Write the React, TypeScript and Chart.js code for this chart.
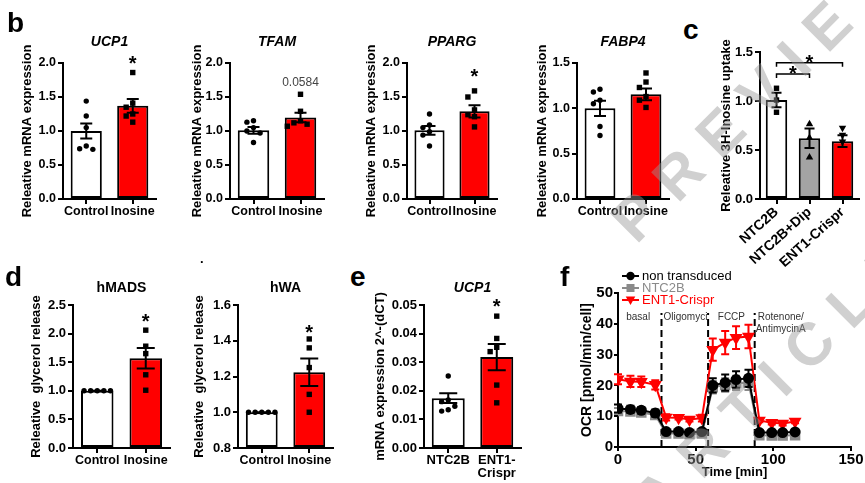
import React, { useEffect, useRef } from 'react';
import { Chart, registerables } from 'chart.js';

Chart.register(...registerables);

const FONT = '"Liberation Sans", Arial, Helvetica, sans-serif';
const RED = '#ff0000';
const BAR_GRAY = '#a3a3a3';
const LINE_GRAY = '#8a8a8a';

/* ================= DATA ================= */
// panel b
const bLabels = ['Control', 'Inosine'];

const ucp1Mean = [1.0, 1.37];
const ucp1Sem = [0.11, 0.1];
const ucp1Control = [1.44, 1.22, 1.05, 0.78, 0.73, 0.74];
const ucp1Inosine = [1.86, 1.41, 1.35, 1.25, 1.22, 1.13];

const tfamMean = [1.01, 1.2];
const tfamSem = [0.05, 0.07];
const tfamControl = [1.15, 1.13, 1.05, 1.0, 0.97, 0.83];
const tfamInosine = [1.54, 1.29, 1.15, 1.12, 1.1, 1.07];
const tfamPValue = '0.0584';

const ppargMean = [1.01, 1.29];
const ppargSem = [0.065, 0.09];
const ppargControl = [1.25, 1.09, 1.05, 0.99, 0.94, 0.78];
const ppargInosine = [1.59, 1.5, 1.31, 1.24, 1.21, 1.06];

const fabp4Mean = [1.0, 1.155];
const fabp4Sem = [0.085, 0.065];
const fabp4Control = [1.21, 1.18, 1.09, 1.05, 0.8, 0.7];
const fabp4Inosine = [1.39, 1.29, 1.23, 1.13, 1.09, 1.01];

// panel c
const cLabels = ['NTC2B', 'NTC2B+Dip', 'ENT1-Crispr'];
const uptakeMean = [1.01, 0.62, 0.59];
const uptakeSem = [0.075, 0.1, 0.06];
const uptakeNTC2B = [1.13, 1.01, 0.885];
const uptakeDip = [0.77, 0.63, 0.43];
const uptakeENT1 = [0.72, 0.65, 0.58];

// panel d
const dLabels = ['Control', 'Inosine'];
const hmadsMean = [1.0, 1.57];
const hmadsSem = [0, 0.18];
const hmadsControl = [1, 1, 1, 1, 1];
const hmadsInosine = [2.06, 1.78, 1.65, 1.28, 1.01];

const hwaMean = [1.0, 1.224];
const hwaSem = [0, 0.077];
const hwaControl = [1, 1, 1, 1, 1];
const hwaInosine = [1.41, 1.36, 1.25, 1.1, 1.0];

// panel e
const eLabels = ['NTC2B', ['ENT1-', 'Crispr']];
const eUcp1Mean = [0.0174, 0.0318];
const eUcp1Sem = [0.0017, 0.0046];
const eUcp1NTC2B = [0.0252, 0.0168, 0.0162, 0.0146, 0.0134, 0.0129];
const eUcp1ENT1 = [0.0461, 0.0383, 0.0352, 0.0337, 0.022, 0.0158];

// panel f
const ocrTime = [0, 8, 15, 24, 31, 39, 46, 54, 61, 69, 76, 84, 91, 99, 106, 114];
const ocrNonTransduced = [12.5, 12.2, 11.9, 11.0, 5.0, 5.0, 4.7, 5.0, 20.0, 20.9, 21.9, 22.3, 4.7, 4.7, 4.7, 4.9];
const ocrNonTransducedErr = [1.3, 1.2, 1.1, 1.2, 0.8, 0.6, 0.6, 0.8, 2.3, 2.6, 2.7, 2.8, 0.8, 0.6, 0.6, 0.6];
const ocrNTC2B = [11.7, 11.5, 11.2, 10.4, 4.4, 4.4, 4.2, 4.4, 19.4, 20.1, 20.8, 20.9, 3.8, 3.7, 3.7, 3.8];
const ocrNTC2BErr = [1.0, 1.0, 1.0, 1.0, 0.6, 0.6, 0.6, 0.6, 2.0, 2.2, 2.3, 2.4, 0.6, 0.6, 0.6, 0.6];
const ocrENT1 = [22.0, 21.3, 21.2, 20.2, 9.6, 9.5, 8.9, 9.4, 31.6, 33.9, 35.5, 35.9, 8.6, 7.9, 7.6, 8.3];
const ocrENT1Err = [1.6, 1.8, 1.7, 1.5, 1.0, 0.6, 0.6, 1.1, 3.6, 3.8, 3.7, 3.8, 0.6, 0.6, 0.6, 0.6];
const injectionTimes = [28, 58, 88];
const phaseNames = ['basal', 'Oligomycin', 'FCCP', 'Rotenone/', 'AntimycinA'];

/* ================= HELPERS ================= */
function drawMarker(ctx: any, kind: string, x: number, y: number, r: number, color: string) {
  ctx.fillStyle = color;
  ctx.beginPath();
  if (kind === 'circle') {
    ctx.arc(x, y, r, 0, Math.PI * 2);
  } else if (kind === 'rect') {
    ctx.rect(x - r, y - r, 2 * r, 2 * r);
  } else if (kind === 'triangle') {
    ctx.moveTo(x, y - r * 1.25);
    ctx.lineTo(x + r * 1.2, y + r * 0.85);
    ctx.lineTo(x - r * 1.2, y + r * 0.85);
    ctx.closePath();
  } else if (kind === 'triangleDown') {
    ctx.moveTo(x, y + r * 1.25);
    ctx.lineTo(x + r * 1.2, y - r * 0.85);
    ctx.lineTo(x - r * 1.2, y - r * 0.85);
    ctx.closePath();
  }
  ctx.fill();
}

function swarmOffsets(pys: number[], d: number): number[] {
  const order = pys.map((_, i) => i).sort((a, b) => pys[a] - pys[b]);
  const res = new Array(pys.length).fill(0);
  const placed: { x: number; y: number }[] = [];
  for (const i of order) {
    const y = pys[i];
    for (let k = 0; k < 30; k++) {
      const step = Math.ceil(k / 2);
      const off = k === 0 ? 0 : (k % 2 === 1 ? -step * d : step * d);
      if (placed.every((p) => Math.hypot(p.x - off, p.y - y) >= d - 0.01)) {
        res[i] = off;
        placed.push({ x: off, y });
        break;
      }
    }
  }
  return res;
}

type Note = { cat: number; value: number; text: string; kind: 'star' | 'p' };
type Bracket = { from: number; to: number; value: number; starValue: number };

type BarProps = {
  plot: number[];
  margin: number[];
  labels: any[];
  means: number[];
  sems: number[];
  groups: number[][];
  fills: string[];
  markers: string[];
  yMin: number;
  yMax: number;
  yStep: number;
  decimals: number;
  yTitle: string;
  title?: string;
  titleItalic?: boolean;
  titleGap?: number;
  notes?: Note[];
  brackets?: Bracket[];
  barPct: number;
  capW: number;
  tickSize: number;
  xTickSize: number;
  rotate?: number;
};

function BarPanel(p: BarProps) {
  const ref = useRef<HTMLCanvasElement>(null);
  const [L, T, R, B] = p.plot;
  const [ml, mt, mr, mb] = p.margin;
  const cw = ml + (R - L) + mr;
  const ch = mt + (B - T) + mb;

  useEffect(() => {
    const annot = {
      id: 'annot',
      afterDatasetsDraw(chart: any) {
        const { ctx, chartArea } = chart;
        const xs = chart.scales.x;
        const ys = chart.scales.y;
        ctx.save();
        // error bars (SEM)
        ctx.strokeStyle = '#000';
        ctx.lineWidth = 2;
        p.means.forEach((m, i) => {
          const x = xs.getPixelForValue(i);
          const yt = ys.getPixelForValue(m + p.sems[i]);
          const yb = ys.getPixelForValue(m - p.sems[i]);
          const h = p.capW / 2;
          ctx.beginPath();
          ctx.moveTo(x, yt);
          ctx.lineTo(x, yb);
          ctx.moveTo(x - h, yt);
          ctx.lineTo(x + h, yt);
          ctx.moveTo(x - h, yb);
          ctx.lineTo(x + h, yb);
          ctx.stroke();
        });
        // individual points
        const r = 2.7;
        p.groups.forEach((vals, i) => {
          const cx = xs.getPixelForValue(i);
          const pys = vals.map((v) => ys.getPixelForValue(v));
          const offs = swarmOffsets(pys, r * 2 + 1.2);
          pys.forEach((py, k) => drawMarker(ctx, p.markers[i], cx + offs[k], py, p.markers[i].startsWith('tri') ? 3.1 : r, '#000'));
        });
        // brackets
        (p.brackets || []).forEach((b) => {
          const x1 = xs.getPixelForValue(b.from);
          const x2 = xs.getPixelForValue(b.to);
          const y = ys.getPixelForValue(b.value);
          ctx.lineWidth = 1.5;
          ctx.beginPath();
          ctx.moveTo(x1, y + 4);
          ctx.lineTo(x1, y);
          ctx.lineTo(x2, y);
          ctx.lineTo(x2, y + 4);
          ctx.stroke();
          ctx.font = `bold 20px ${FONT}`;
          ctx.fillStyle = '#000';
          ctx.textAlign = 'center';
          ctx.textBaseline = 'alphabetic';
          ctx.fillText('*', (x1 + x2) / 2, ys.getPixelForValue(b.starValue) + 11.2);
        });
        // notes
        (p.notes || []).forEach((n) => {
          const x = xs.getPixelForValue(n.cat);
          const y = ys.getPixelForValue(n.value);
          ctx.textAlign = 'center';
          if (n.kind === 'star') {
            ctx.font = `bold 20px ${FONT}`;
            ctx.fillStyle = '#000';
            ctx.textBaseline = 'alphabetic';
            ctx.fillText(n.text, x, y + 11.2);
          } else {
            ctx.font = `12px ${FONT}`;
            ctx.fillStyle = '#444';
            ctx.textBaseline = 'middle';
            ctx.fillText(n.text, x, y);
          }
        });
        // title
        if (p.title) {
          ctx.font = `${p.titleItalic ? 'italic ' : ''}bold 14px ${FONT}`;
          ctx.fillStyle = '#000';
          ctx.textAlign = 'center';
          ctx.textBaseline = 'middle';
          ctx.fillText(p.title, (chartArea.left + chartArea.right) / 2, chartArea.top - (p.titleGap || 20));
        }
        ctx.restore();
      },
    };

    const tickGrid = { display: true, drawOnChartArea: false, drawTicks: true, tickLength: 5, color: '#000', lineWidth: 2 };
    const chart = new Chart(ref.current as HTMLCanvasElement, {
      type: 'bar',
      data: {
        labels: p.labels,
        datasets: [
          {
            data: p.means,
            backgroundColor: p.fills,
            borderColor: '#000',
            borderWidth: 2,
            borderSkipped: false,
            barPercentage: p.barPct,
            categoryPercentage: 1,
            base: p.yMin,
          } as any,
        ],
      },
      options: {
        responsive: false,
        animation: false,
        devicePixelRatio: 1,
        layout: { padding: { left: 0, top: mt, right: mr, bottom: 0 } },
        plugins: { legend: { display: false }, tooltip: { enabled: false }, title: { display: false } },
        scales: {
          x: {
            type: 'category',
            offset: true,
            grid: { ...tickGrid, offset: false },
            border: { display: true, color: '#000', width: 2 },
            ticks: {
              color: '#000',
              font: { family: FONT, size: p.xTickSize, weight: 'bold', lineHeight: 1.0 },
              padding: 1,
              autoSkip: false,
              maxRotation: p.rotate || 0,
              minRotation: p.rotate || 0,
            },
            afterFit: (s: any) => {
              s.height = mb;
            },
          },
          y: {
            min: p.yMin,
            max: p.yMax,
            ticks: {
              stepSize: p.yStep,
              color: '#000',
              font: { family: FONT, size: p.tickSize, weight: 'bold' },
              padding: 2,
              callback: (v: any) => Number(v).toFixed(p.decimals),
            },
            grid: tickGrid,
            border: { display: true, color: '#000', width: 2 },
            title: {
              display: true,
              text: p.yTitle,
              color: '#000',
              font: { family: FONT, size: 13, weight: 'bold' },
              padding: 0,
            },
            afterFit: (s: any) => {
              s.width = ml;
            },
          },
        },
      } as any,
      plugins: [annot],
    });
    return () => chart.destroy();
  }, []);

  return (
    <canvas
      ref={ref}
      width={cw}
      height={ch}
      style={{ position: 'absolute', left: L - ml, top: T - mt, width: cw, height: ch }}
    />
  );
}

function OcrPanel() {
  const ref = useRef<HTMLCanvasElement>(null);
  const [L, T, R, B] = [618, 293, 851, 447];
  const [ml, mt, mr, mb] = [39, 30, 14, 35];
  const cw = ml + (R - L) + mr;
  const ch = mt + (B - T) + mb;

  useEffect(() => {
    const errs = [ocrNonTransducedErr, ocrNTC2BErr, ocrENT1Err];
    const markerKinds = ['circle', 'rect', 'triangleDown'];
    const pts = (arr: number[]) => arr.map((y, i) => ({ x: ocrTime[i], y }));

    const ocrPlugin = {
      id: 'ocr',
      beforeDatasetsDraw(chart: any) {
        const { ctx } = chart;
        const xs = chart.scales.x;
        const ys = chart.scales.y;
        ctx.save();
        ctx.strokeStyle = '#000';
        ctx.lineWidth = 2;
        ctx.setLineDash([7, 4]);
        injectionTimes.forEach((t) => {
          const x = xs.getPixelForValue(t);
          ctx.beginPath();
          ctx.moveTo(x, ys.getPixelForValue(0));
          ctx.lineTo(x, ys.getPixelForValue(43.5));
          ctx.stroke();
        });
        ctx.setLineDash([]);
        ctx.font = `10px ${FONT}`;
        ctx.fillStyle = '#333';
        ctx.textBaseline = 'middle';
        const yRow1 = ys.getPixelForValue(42.2);
        const yRow2 = ys.getPixelForValue(38.3);
        ctx.textAlign = 'center';
        ctx.fillText(phaseNames[0], xs.getPixelForValue(injectionTimes[0] / 2 - 1), yRow1);
        // Oligomycin, clipped to its interval
        ctx.save();
        ctx.beginPath();
        const xa = xs.getPixelForValue(injectionTimes[0]) + 1;
        const xb = xs.getPixelForValue(injectionTimes[1]) - 1;
        ctx.rect(xa, yRow1 - 10, xb - xa, 20);
        ctx.clip();
        ctx.textAlign = 'left';
        ctx.fillText(phaseNames[1], xa + 1, yRow1);
        ctx.restore();
        ctx.textAlign = 'center';
        ctx.fillText(phaseNames[2], xs.getPixelForValue((injectionTimes[1] + injectionTimes[2]) / 2), yRow1);
        ctx.textAlign = 'left';
        ctx.fillText(phaseNames[3], xs.getPixelForValue(injectionTimes[2]) + 3, yRow1);
        ctx.fillText(phaseNames[4], xs.getPixelForValue(injectionTimes[2]) + 1, yRow2);
        ctx.restore();
      },
      beforeDatasetDraw(chart: any, args: any) {
        const { ctx } = chart;
        const xs = chart.scales.x;
        const ys = chart.scales.y;
        const i = args.index;
        const ds = chart.data.datasets[i];
        ctx.save();
        ctx.strokeStyle = ds.borderColor;
        ctx.lineWidth = 2;
        ds.data.forEach((pt: any, k: number) => {
          const x = xs.getPixelForValue(pt.x);
          const yt = ys.getPixelForValue(pt.y + errs[i][k]);
          const yb = ys.getPixelForValue(pt.y - errs[i][k]);
          ctx.beginPath();
          ctx.moveTo(x, yt);
          ctx.lineTo(x, yb);
          ctx.moveTo(x - 4, yt);
          ctx.lineTo(x + 4, yt);
          ctx.moveTo(x - 4, yb);
          ctx.lineTo(x + 4, yb);
          ctx.stroke();
        });
        ctx.restore();
      },
      afterDraw(chart: any) {
        const { ctx, chartArea } = chart;
        ctx.save();
        const x0 = chartArea.left + 4;
        const rowsY = [chartArea.top - 17, chartArea.top - 5, chartArea.top + 7];
        chart.data.datasets.forEach((ds: any, i: number) => {
          const y = rowsY[i];
          ctx.strokeStyle = ds.borderColor;
          ctx.lineWidth = 2;
          ctx.beginPath();
          ctx.moveTo(x0, y);
          ctx.lineTo(x0 + 17, y);
          ctx.stroke();
          drawMarker(ctx, markerKinds[i], x0 + 8.5, y, i === 0 ? 4.2 : 4, ds.borderColor);
          ctx.font = `13px ${FONT}`;
          ctx.fillStyle = ds.borderColor;
          ctx.textAlign = 'left';
          ctx.textBaseline = 'middle';
          ctx.fillText(ds.label, x0 + 20, y);
        });
        ctx.restore();
      },
    };

    const tickGrid = { display: true, drawOnChartArea: false, drawTicks: true, tickLength: 4, color: '#000', lineWidth: 2 };
    const chart = new Chart(ref.current as HTMLCanvasElement, {
      type: 'line',
      data: {
        datasets: [
          {
            label: 'non transduced',
            data: pts(ocrNonTransduced),
            borderColor: '#000',
            backgroundColor: '#000',
            pointStyle: 'circle',
            pointRadius: 4.5,
            borderWidth: 2,
          },
          {
            label: 'NTC2B',
            data: pts(ocrNTC2B),
            borderColor: LINE_GRAY,
            backgroundColor: LINE_GRAY,
            pointStyle: 'rect',
            pointRadius: 6,
            borderWidth: 2,
          },
          {
            label: 'ENT1-Crispr',
            data: pts(ocrENT1),
            borderColor: RED,
            backgroundColor: RED,
            pointStyle: 'triangle',
            pointRotation: 180,
            pointRadius: 5.5,
            borderWidth: 2,
          },
        ] as any,
      },
      options: {
        responsive: false,
        animation: false,
        devicePixelRatio: 1,
        layout: { padding: { left: 0, top: mt, right: mr, bottom: 0 } },
        plugins: { legend: { display: false }, tooltip: { enabled: false } },
        scales: {
          x: {
            type: 'linear',
            min: 0,
            max: 150,
            ticks: { stepSize: 50, color: '#000', font: { family: FONT, size: 15, weight: 'bold' }, padding: 0 },
            grid: tickGrid,
            border: { display: true, color: '#000', width: 2 },
            title: {
              display: true,
              text: 'Time [min]',
              color: '#000',
              font: { family: FONT, size: 13, weight: 'bold' },
              padding: { top: 0, bottom: 2 },
            },
            afterFit: (s: any) => {
              s.height = mb;
            },
          },
          y: {
            min: 0,
            max: 50,
            ticks: { stepSize: 10, color: '#000', font: { family: FONT, size: 15, weight: 'bold' }, padding: 1 },
            grid: tickGrid,
            border: { display: true, color: '#000', width: 2 },
            title: {
              display: true,
              text: 'OCR [pmol/min/cell]',
              color: '#000',
              font: { family: FONT, size: 14, weight: 'bold' },
              padding: 0,
            },
            afterFit: (s: any) => {
              s.width = ml;
            },
          },
        },
      } as any,
      plugins: [ocrPlugin],
    });
    return () => chart.destroy();
  }, []);

  return (
    <canvas
      ref={ref}
      width={cw}
      height={ch}
      style={{ position: 'absolute', left: L - ml, top: T - mt, width: cw, height: ch }}
    />
  );
}

function PanelLetter({ text, left, baseline }: { text: string; left: number; baseline: number }) {
  return (
    <div
      style={{
        position: 'absolute',
        left,
        top: baseline - 23.7,
        fontFamily: FONT,
        fontWeight: 'bold',
        fontSize: 28,
        lineHeight: '28px',
        color: '#000',
      }}
    >
      {text}
    </div>
  );
}

function Watermark({ text, left, top }: { text: string; left: number; top: number }) {
  return (
    <div
      style={{
        position: 'absolute',
        left,
        top,
        fontFamily: FONT,
        fontWeight: 'bold',
        fontSize: 60,
        lineHeight: '60px',
        letterSpacing: '18px',
        color: 'rgba(150,150,150,0.45)',
        transform: 'rotate(-45deg)',
        transformOrigin: '0 0',
        whiteSpace: 'nowrap',
        pointerEvents: 'none',
      }}
    >
      {text}
    </div>
  );
}

const bCommon = {
  labels: bLabels,
  fills: ['#ffffff', RED],
  markers: ['circle', 'rect'],
  yMin: 0,
  yStep: 0.5,
  decimals: 1,
  yTitle: 'Releative mRNA expression',
  titleItalic: true,
  titleGap: 21,
  barPct: 0.67,
  capW: 12,
  tickSize: 12.5,
  xTickSize: 12.5,
  margin: [43, 45, 8, 32],
};

const dCommon = {
  labels: dLabels,
  fills: ['#ffffff', RED],
  markers: ['circle', 'rect'],
  yTitle: 'Releative  glycerol release',
  titleItalic: false,
  titleGap: 17,
  barPct: 0.67,
  capW: 18,
  tickSize: 13,
  xTickSize: 12.5,
};

export default function App() {
  return (
    <div
      style={{
        position: 'fixed',
        left: 0,
        top: 0,
        width: 865,
        height: 483,
        background: '#fff',
        overflow: 'hidden',
        fontFamily: FONT,
      }}
    >
      {/* panel b */}
      <BarPanel
        {...bCommon}
        plot={[63, 63, 156, 199]}
        means={ucp1Mean}
        sems={ucp1Sem}
        groups={[ucp1Control, ucp1Inosine]}
        yMax={2}
        title="UCP1"
        notes={[{ cat: 1, value: 2.06, text: '*', kind: 'star' }]}
      />
      <BarPanel
        {...bCommon}
        plot={[230, 63, 324, 199]}
        margin={[40, 45, 8, 32]}
        means={tfamMean}
        sems={tfamSem}
        groups={[tfamControl, tfamInosine]}
        yMax={2}
        title="TFAM"
        notes={[{ cat: 1, value: 1.71, text: tfamPValue, kind: 'p' }]}
      />
      <BarPanel
        {...bCommon}
        plot={[407, 63, 497, 199]}
        means={ppargMean}
        sems={ppargSem}
        groups={[ppargControl, ppargInosine]}
        yMax={2}
        title="PPARG"
        notes={[{ cat: 1, value: 1.87, text: '*', kind: 'star' }]}
      />
      <BarPanel
        {...bCommon}
        plot={[577, 63, 669, 199]}
        margin={[42, 45, 8, 32]}
        means={fabp4Mean}
        sems={fabp4Sem}
        groups={[fabp4Control, fabp4Inosine]}
        yMax={1.5}
        title="FABP4"
      />

      {/* panel c */}
      <BarPanel
        plot={[760, 52, 859, 199]}
        margin={[41, 40, 5, 82]}
        labels={cLabels}
        means={uptakeMean}
        sems={uptakeSem}
        groups={[uptakeNTC2B, uptakeDip, uptakeENT1]}
        fills={['#ffffff', BAR_GRAY, RED]}
        markers={['rect', 'triangle', 'triangleDown']}
        yMin={0}
        yMax={1.5}
        yStep={0.5}
        decimals={1}
        yTitle="Releative 3H-Inosine uptake"
        brackets={[
          { from: 0, to: 1, value: 1.276, starValue: 1.33 },
          { from: 0, to: 2, value: 1.39, starValue: 1.445 },
        ]}
        barPct={0.65}
        capW={10}
        tickSize={13}
        xTickSize={14}
        rotate={42}
      />

      {/* panel d */}
      <BarPanel
        {...dCommon}
        plot={[73, 305, 170, 448]}
        margin={[44, 40, 8, 32]}
        means={hmadsMean}
        sems={hmadsSem}
        groups={[hmadsControl, hmadsInosine]}
        yMin={0}
        yMax={2.5}
        yStep={0.5}
        decimals={1}
        title="hMADS"
        notes={[{ cat: 1, value: 2.3, text: '*', kind: 'star' }]}
      />
      <BarPanel
        {...dCommon}
        plot={[238, 305, 333, 448]}
        margin={[46, 40, 8, 32]}
        means={hwaMean}
        sems={hwaSem}
        groups={[hwaControl, hwaInosine]}
        yMin={0.8}
        yMax={1.6}
        yStep={0.2}
        decimals={1}
        title="hWA"
        notes={[{ cat: 1, value: 1.475, text: '*', kind: 'star' }]}
      />

      {/* panel e */}
      <BarPanel
        plot={[424, 305, 521, 448]}
        margin={[51, 40, 8, 34]}
        labels={eLabels}
        means={eUcp1Mean}
        sems={eUcp1Sem}
        groups={[eUcp1NTC2B, eUcp1ENT1]}
        fills={['#ffffff', RED]}
        markers={['circle', 'rect']}
        yMin={0}
        yMax={0.05}
        yStep={0.01}
        decimals={2}
        yTitle="mRNA expression 2^-(dCT)"
        title="UCP1"
        titleItalic={true}
        titleGap={17}
        notes={[{ cat: 1, value: 0.0511, text: '*', kind: 'star' }]}
        barPct={0.68}
        capW={18}
        tickSize={13}
        xTickSize={13}
      />

      {/* panel f */}
      <OcrPanel />

      <PanelLetter text="b" left={7} baseline={33} />
      <PanelLetter text="c" left={683} baseline={40} />
      <PanelLetter text="d" left={5} baseline={287} />
      <PanelLetter text="e" left={350} baseline={287} />
      <PanelLetter text="f" left={560} baseline={287} />
      <div style={{ position: 'absolute', left: 200, top: 252, fontFamily: FONT, fontSize: 13, fontWeight: 'bold', lineHeight: '13px' }}>.</div>

      <Watermark text="PREVIEW" left={601} top={210} />
      <Watermark text="ARTICLE" left={623} top={489} />
    </div>
  );
}
